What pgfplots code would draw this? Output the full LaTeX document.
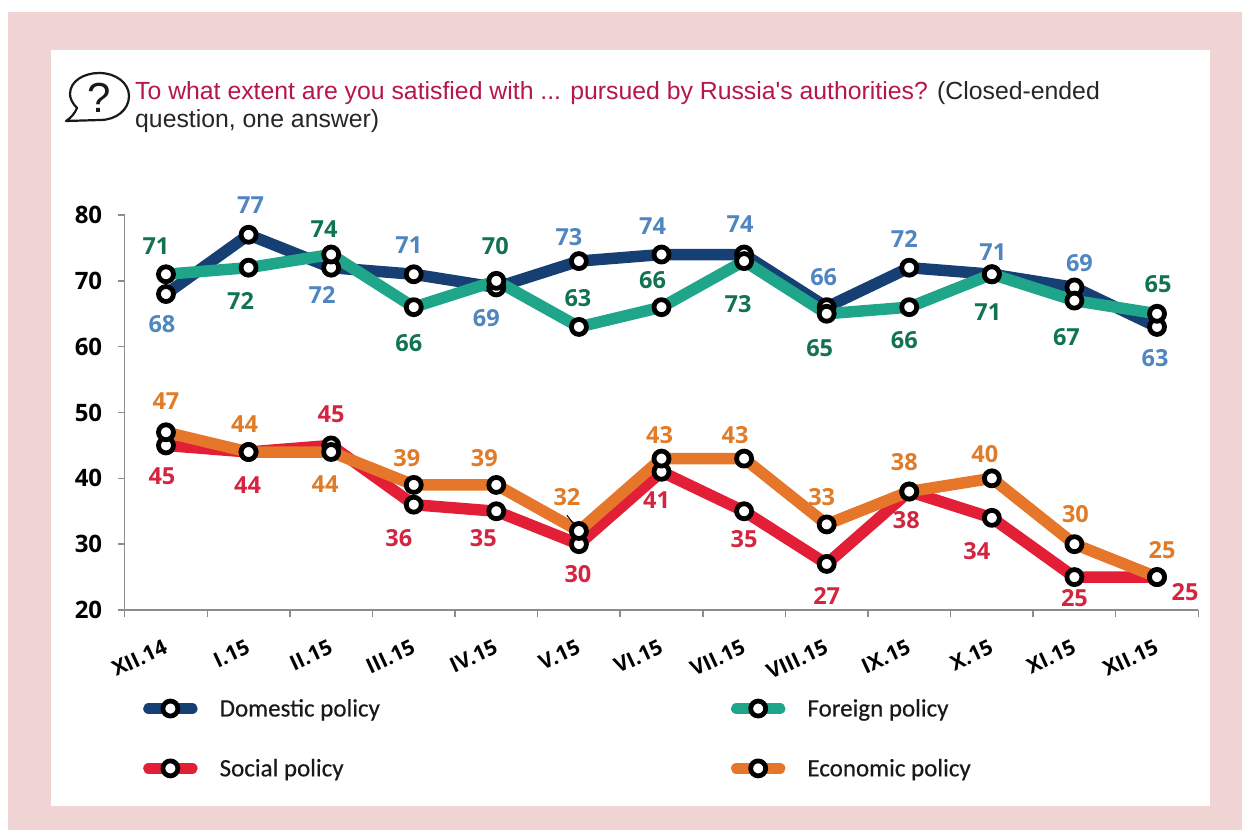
\documentclass[border=0pt]{standalone}
\usepackage{pgfplots}
\usepackage{pgfplotstable}
\usepackage{fontspec}
\pgfplotsset{compat=1.18}
\setmainfont{Carlito}
\newfontfamily\legendfont[FakeBold=0.4]{Carlito}
\newfontfamily\titlefont{Liberation Sans}
\newfontfamily\boldfont[BoldFont={Open Sans Bold}]{Open Sans}
\definecolor{pinkbg}{HTML}{F0D3D3}
\definecolor{navy}{HTML}{163F74}
\definecolor{teal2}{HTML}{1FA68A}
\definecolor{red2}{HTML}{E21F37}
\definecolor{orange2}{HTML}{E5762A}
\definecolor{lblue}{HTML}{4F86C0}
\definecolor{lgreen}{HTML}{11734F}
\definecolor{lred}{HTML}{D5243F}
\definecolor{lorange}{HTML}{E07B27}
\definecolor{crimson}{HTML}{B5174B}
\definecolor{axisgray}{HTML}{8C8C8C}

% x y, then label offset from the point in px
\pgfplotstableread{
x y dx dy
0 68 -4 -30
1 77 2 30
2 72 -9 -27
3 71 -5 29
4 69 -10 -31
5 73 -10 24
6 74 -9 28
7 74 -4 30
8 66 -3 30
9 72 -5 29
10 71 1 22
11 69 5 24
12 63 -2 -31
}\domestic
\pgfplotstableread{
x y dx dy
0 71 -10 28
1 72 -8 -33
2 74 -7 25
3 66 -5 -36
4 70 -1 35
5 63 -1 29
6 66 -9 27
7 73 -6 -43
8 65 -7 -34
9 66 -5 -33
10 71 -4 -38
11 67 -8 -37
12 65 1 30
}\foreign
\pgfplotstableread{
x y dx dy
0 45 -4 -31
1 44 -1 -33
2 45 0 31
3 36 -15 -33
4 35 -13 -27
5 30 -1 -30
6 41 -5 -28
7 35 0 -28
8 27 0 -32
9 38 -3 -29
10 34 -15 -33
11 25 0 -21
12 25 28 -15
}\social
\pgfplotstableread{
x y dx dy
0 47 0 31
1 44 -4 28
2 44 -6 -32
3 39 -7 27
4 39 -12 27
5 32 -12 34
6 43 -2 23
7 43 -9 23
8 33 -5 27
9 38 -5 29
10 40 -7 24
11 30 1 30
12 25 5 27
}\economic

\pgfplotsset{
  serie/.style={
    line width=11.5pt, color=#1, line join=round,
    mark=*, mark size=7.5pt,
    mark options={draw=black, fill=white, line width=4.8pt, solid},
  },
  labelled/.style={
    nodes near coords,
    visualization depends on={\thisrow{dx}\as\ldx},
    visualization depends on={\thisrow{dy}\as\ldy},
    every node near coord/.append style={anchor=center, inner sep=0pt, text=#1,
      font=\fontsize{23.5}{23.5}\boldfont\bfseries,
      xshift=\ldx pt, yshift=\ldy pt},
  },
}

\begin{document}
\begin{tikzpicture}
\useasboundingbox (0pt,0pt) rectangle (1242pt,-830pt);
\fill[white] (0pt,0pt) rectangle (1242pt,-830pt);
\fill[pinkbg] (8pt,-12pt) rectangle (1242pt,-830pt);
\fill[white] (51pt,-50pt) rectangle (1210pt,-806pt);

% speech bubble
\begin{scope}[x=1pt,y=-1pt]
\draw[line width=2.2pt, black!90, line join=round]
  (66,121) .. controls (71,118) and (75,113) .. (77,108)
  .. controls (72,103) and (70,98) .. (70,94)
  .. controls (70,81) and (84,73) .. (99,73)
  .. controls (116,73) and (129,83) .. (129,96)
  .. controls (129,110) and (116,120) .. (100,120)
  -- cycle;
\node[font=\fontsize{42}{42}\titlefont, text=black!90] at (99.5,98) {?};
\node[anchor=base west, inner sep=0pt, font=\fontsize{24.8}{25}\titlefont] at (135,99)
  {\textcolor{crimson}{To what extent are you satisfied with ... pursued by Russia's authorities?} \textcolor{black!85}{(Closed-ended}};
\node[anchor=base west, inner sep=0pt, font=\fontsize{24.8}{25}\titlefont, text=black!85] at (135,127)
  {question, one answer)};
\end{scope}

\begin{axis}[
  at={(124.7pt,-610pt)}, anchor=south west,
  scale only axis, width=1073.6pt, height=395pt,
  xmin=-0.5, xmax=12.5, ymin=20, ymax=80,
  axis x line=bottom, axis y line=left,
  axis line style={-, axisgray, line width=1.5pt},
  clip=false,
  xtick={0,...,12},
  xticklabels={XII.14,I.15,II.15,III.15,IV.15,V.15,VI.15,VII.15,VIII.15,IX.15,X.15,XI.15,XII.15},
  minor xtick={-0.5,0.5,...,12.5},
  ytick={20,30,...,80},
  tick align=outside,
  major tick length=7pt, minor tick length=7pt,
  major x tick style={draw=none},
  minor x tick style={axisgray, line width=1.5pt},
  y tick style={axisgray, line width=1.5pt},
  /pgf/number format/assume math mode=true,
  yticklabel style={font=\fontsize{24}{24}\boldfont\bfseries, text=black, xshift=-12pt},
  xticklabel style={font=\fontsize{21}{21}\boldfont\bfseries, text=black, rotate=25, anchor=east, xshift=-9pt, yshift=-26pt},
  legend columns=2,
  legend cell align=left,
  legend style={at={(0.017,-0.22)}, anchor=north west, draw=none, fill=none, inner sep=0pt,
    font=\fontsize{25}{25}\legendfont, text=black!90,
    row sep=37pt,
    /tikz/column 1/.style={column sep=20pt},
    /tikz/column 2/.style={column sep=349pt},
    /tikz/column 3/.style={column sep=20pt}},
  legend image code/.code={
    \draw[mark repeat=2, mark phase=2, line cap=round, #1]
      plot coordinates {(0pt,0pt) (21.5pt,0pt) (43pt,0pt)};
  },
]
\addplot[serie=navy, labelled=lblue] table[x=x, y=y] {\domestic};
\addlegendentry{Domestic policy}
\addplot[serie=teal2, labelled=lgreen] table[x=x, y=y] {\foreign};
\addlegendentry{Foreign policy}
\addplot[serie=red2, labelled=lred] table[x=x, y=y] {\social};
\addlegendentry{Social policy}
\addplot[serie=orange2, labelled=lorange] table[x=x, y=y] {\economic};
\addlegendentry{Economic policy}
\draw[black, line width=1pt] (axis cs:4.855,34.4) -- (axis cs:5,32);
\end{axis}
\end{tikzpicture}
\end{document}
